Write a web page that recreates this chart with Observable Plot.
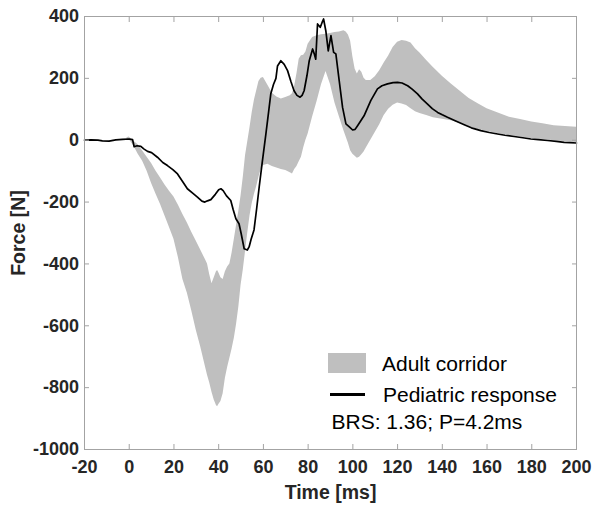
<!DOCTYPE html>
<html>
<head>
<meta charset="utf-8">
<script src="https://cdn.jsdelivr.net/npm/d3@7"></script>
<script src="https://cdn.jsdelivr.net/npm/@observablehq/plot@0.6"></script>
<style>
  body { margin: 0; background: #fff; }
  #wrap { position: relative; width: 595px; height: 506px; font-family: "Liberation Sans", Arial, sans-serif; }
  .leg { position: absolute; font-size: 21px; color: #000; line-height: 1; white-space: nowrap; }
  .sw { position: absolute; }
</style>
</head>
<body>
<div id="wrap"></div>
<script>
// ---- axis ticks & labels ----
const xTicks = [-20, 0, 20, 40, 60, 80, 100, 120, 140, 160, 180, 200];
const yTicks = [-1000, -800, -600, -400, -200, 0, 200, 400];
const xLabel = "Time [ms]";
const yLabel = "Force [N]";
const legendLabels = ["Adult corridor", "Pediatric response"];
const annotation = "BRS: 1.36; P=4.2ms";

// ---- adult corridor (gray band) ----
const corridorT = [-1, 0, 2, 4, 6, 8, 10, 12, 14, 16, 18, 20, 22, 24, 26, 28, 30, 32, 34, 35, 36, 37, 38, 39, 39.5, 40, 41, 42, 43, 44, 45, 46, 47, 48, 49, 50, 51, 52, 53, 54, 55, 56, 57, 58, 59, 60, 62, 64, 66, 68, 70, 72, 73, 74, 75, 76, 77, 78, 79, 80, 82, 84, 86, 88, 90, 92, 94, 96, 97, 98, 99, 100, 101, 102, 103, 104, 105, 106, 108, 110, 112, 114, 116, 118, 120, 122, 124, 126, 128, 130, 133, 136, 140, 144, 148, 152, 156, 160, 165, 170, 175, 180, 185, 190, 195, 200];
const corridorUpper = [8, 10, -3, -15, -35, -55, -75, -100, -122, -145, -165, -184, -210, -240, -268, -298, -327, -356, -385, -400, -435, -464, -445, -425, -421, -428, -445, -450, -425, -410, -400, -365, -320, -275, -230, -180, -120, -50, -5, 40, 90, 130, 160, 190, 200, 203, 178, 152, 140, 133, 138, 144, 150, 175, 215, 262, 273, 275, 285, 310, 332, 338, 341, 343, 345, 348, 350, 354, 350, 340, 320, 270, 230, 214, 228, 220, 200, 193, 193, 205, 225, 250, 272, 300, 317, 322, 320, 314, 296, 282, 258, 235, 207, 182, 158, 135, 118, 102, 88, 74, 67, 59, 53, 47, 44, 42];
const corridorLower = [0, 2, -18, -45, -68, -100, -140, -175, -208, -245, -282, -320, -380, -450, -495, -553, -615, -669, -730, -760, -785, -815, -840, -858, -862, -855, -845, -820, -770, -735, -705, -675, -640, -595, -540, -470, -420, -360, -300, -245, -205, -175, -150, -120, -95, -82, -78, -85, -90, -95, -98, -105, -109, -95, -85, -70, -55, -25, 0, 20, 75, 125, 180, 222, 180, 120, 75, 31, 10, -10, -34, -45, -52, -58, -55, -47, -38, -25, 0, 25, 50, 80, 100, 113, 120, 117, 112, 102, 92, 86, 80, 73, 68, 63, 54, 44, 35, 28, 21, 15, 10, 5, 2, -2, -5, -7];

// ---- pediatric response (black line) ----
const responseT = [-20, -17, -14, -12, -9, -6, -3, 0, 1.5, 2.2, 3.5, 5.2, 6.5, 8.2, 10, 12.6, 15, 17.1, 19.5, 21.6, 24, 26, 28.5, 30.5, 32.5, 33.8, 35, 36.5, 38.5, 40, 41, 42, 43.5, 45.4, 46.5, 47.7, 49.1, 50, 51.4, 52.8, 53.6, 54.5, 55.8, 57, 58.1, 59.5, 61.1, 62.3, 63.3, 64.5, 65.6, 66.3, 67.8, 69.3, 70.8, 72.3, 73.7, 75, 76.4, 77.3, 78.2, 79.5, 80.5, 82, 82.7, 83.4, 84.2, 85.4, 86.2, 86.9, 87.9, 89, 90.2, 91.4, 92.4, 93.9, 95.4, 96.9, 98.3, 99.9, 101, 102.1, 105, 108, 111, 113, 115.5, 118, 120, 122, 124.5, 126.5, 128.9, 131, 133.4, 135.5, 137.9, 140, 142.3, 146, 149.8, 153, 157.2, 161, 164.7, 168, 172.1, 176, 179.6, 183, 187.1, 191, 194.5, 197, 200];
const responseF = [0, 1, 0, -2, -3, 1, 3, 4, 2, -21, -18, -20, -28, -36, -40, -55, -72, -82, -95, -109, -135, -157, -172, -184, -197, -200, -196, -192, -175, -160, -157, -163, -180, -195, -225, -254, -270, -300, -351, -355, -345, -320, -290, -220, -152, -70, 20, 90, 150, 180, 200, 240, 257, 245, 225, 190, 160, 145, 139, 145, 160, 210, 257, 295, 280, 262, 376, 365, 380, 392, 354, 289, 338, 284, 279, 192, 106, 53, 44, 33, 35, 47, 79, 128, 166, 176, 182, 186, 187, 185, 176, 165, 150, 133, 117, 102, 90, 82, 74, 62, 50, 40, 31, 25, 20, 16, 12, 8, 4, 2, -1, -4, -7, -8, -9];

const corridor = corridorT.map((t, i) => ({t, lo: corridorLower[i], hi: corridorUpper[i]}));
const response = responseT.map((t, i) => ({t, f: responseF[i]}));

const frameColor = "#a3a3a3";
const textColor = "#262626";
const bandColor = "#bfbfbf";
const fmt = d => (d < 0 ? "-" + Math.abs(d) : String(d));

const plot = Plot.plot({
  width: 595,
  height: 506,
  marginLeft: 84,
  marginRight: 19,
  marginTop: 16,
  marginBottom: 57,
  style: {fontFamily: '"Liberation Sans", Arial, sans-serif', background: "#fff", color: textColor, overflow: "visible"},
  x: {domain: [-20, 200]},
  y: {domain: [-1000, 400]},
  marks: [
    Plot.areaY(corridor, {x: "t", y1: "lo", y2: "hi", fill: bandColor}),
    Plot.lineY(response, {x: "t", y: "f", stroke: "#000", strokeWidth: 1.7}),
    Plot.frame({stroke: frameColor, strokeWidth: 1}),
    Plot.axisX(xTicks, {anchor: "bottom", tickSize: -5, tickPadding: 15.7, tickFormat: fmt, stroke: frameColor, fill: textColor, fontSize: 18, fontWeight: "bold", label: null}),
    Plot.axisX(xTicks, {anchor: "top", tickSize: -5, tickFormat: () => "", stroke: frameColor, label: null}),
    Plot.axisY(yTicks, {anchor: "left", tickSize: -5, tickPadding: 10.4, tickFormat: fmt, stroke: frameColor, fill: textColor, fontSize: 18, fontWeight: "bold", label: null}),
    Plot.axisY(yTicks, {anchor: "right", tickSize: -5, tickFormat: () => "", stroke: frameColor, label: null}),
    Plot.text([xLabel], {frameAnchor: "bottom", lineAnchor: "middle", textAnchor: "middle", dy: 43, fontSize: 19.5, fontWeight: "bold", fill: textColor}),
    Plot.text([yLabel], {frameAnchor: "left", lineAnchor: "middle", textAnchor: "middle", rotate: -90, dx: -66, fontSize: 19.5, fontWeight: "bold", fill: textColor})
  ]
});

const wrap = document.getElementById("wrap");
wrap.appendChild(plot);

function addEl(cls, css, text) {
  const d = document.createElement("div");
  d.className = cls;
  Object.assign(d.style, css);
  if (text) d.textContent = text;
  wrap.appendChild(d);
}
addEl("sw", {left: "328px", top: "353px", width: "38px", height: "20px", background: bandColor});
addEl("leg", {left: "382px", top: "352.5px"}, legendLabels[0]);
addEl("sw", {left: "330px", top: "392.5px", width: "35px", height: "3px", background: "#000"});
addEl("leg", {left: "383px", top: "384px"}, legendLabels[1]);
addEl("leg", {left: "331.5px", top: "411px"}, annotation);
</script>
</body>
</html>
